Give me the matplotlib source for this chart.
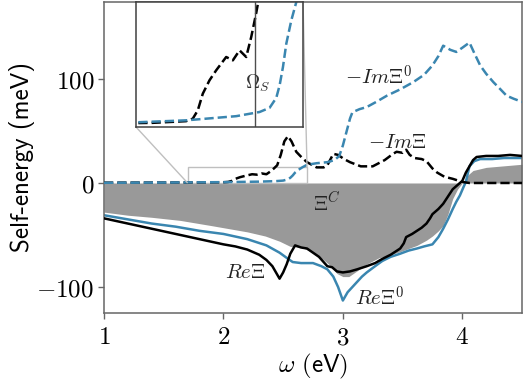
import numpy as np
import matplotlib
matplotlib.use("Agg")
import matplotlib.pyplot as plt
from mpl_toolkits.axes_grid1.inset_locator import mark_inset

plt.rcParams['mathtext.fontset'] = 'cm'

# ---- data ----
re_xi_x = [1.0, 1.2, 1.4, 1.6, 1.8, 2.0, 2.1, 2.2, 2.3, 2.36, 2.41, 2.44, 2.47, 2.50, 2.53,
           2.56, 2.60, 2.65, 2.70, 2.75, 2.80, 2.87, 2.91, 2.95, 3.0, 3.06, 3.12, 3.20, 3.27,
           3.33, 3.40, 3.48, 3.51, 3.53, 3.58, 3.62, 3.66, 3.70, 3.73, 3.75, 3.80, 3.84, 3.88,
           3.92, 3.96, 4.0, 4.03, 4.06, 4.09, 4.12, 4.2, 4.3, 4.4, 4.5]
re_xi_y = [-34, -39, -44, -49, -54, -59, -61, -64, -69, -74, -80, -86, -92, -86, -78,
           -68, -60, -62, -63, -67, -71, -80, -81, -85, -86, -85, -83, -80, -77,
           -73, -69, -63, -58, -52, -49, -46, -43, -39, -34, -30, -25, -20, -13,
           -6, -2, 2, 10, 16, 22, 25, 26, 26, 27, 26]

re_xi0_x = [1.0, 1.2, 1.4, 1.6, 1.8, 2.0, 2.2, 2.36, 2.47, 2.53, 2.58, 2.65, 2.75, 2.82, 2.87,
            2.92, 2.96, 3.0, 3.04, 3.08, 3.12, 3.16, 3.20, 3.27, 3.33, 3.40, 3.48, 3.55, 3.62,
            3.68, 3.75, 3.80, 3.84, 3.88, 3.92, 3.95, 3.98, 4.01, 4.03, 4.06, 4.1, 4.15, 4.25,
            4.35, 4.5]
re_xi0_y = [-31, -35, -39, -42, -46, -49, -54, -60, -67, -72, -76, -77, -77, -80, -83,
            -90, -100, -113, -105, -100, -95, -90, -86, -80, -75, -71, -68, -65, -63,
            -61, -59, -52, -44, -35, -25, -18, -12, -4, 1, 16, 21, 23, 23,
            24, 24]

xic_x = [1.0, 1.2, 1.4, 1.64, 1.9, 2.2, 2.35, 2.47, 2.56, 2.66, 2.75, 2.83, 2.9, 2.95, 3.0,
         3.05, 3.1, 3.2, 3.3, 3.4, 3.48, 3.55, 3.62, 3.7, 3.75, 3.80, 3.84, 3.88, 3.92, 3.96,
         4.0, 4.05, 4.09, 4.2, 4.3, 4.4, 4.5]
xic_y = [-28, -31, -33, -36, -41, -47, -51, -56, -61, -62, -67, -73, -80, -87, -90,
         -90, -86, -78, -72, -69, -66, -63, -60, -55, -51, -46, -41, -30, -15, -6,
         0, 8, 12, 15, 16, 17, 18]

im_xi_x = [1.0, 1.5, 1.8, 2.0, 2.04, 2.07, 2.10, 2.14, 2.18, 2.21, 2.24, 2.28, 2.32, 2.36,
           2.39, 2.42, 2.45, 2.48, 2.51, 2.54, 2.57, 2.61, 2.66, 2.70, 2.78, 2.84, 2.87, 2.92,
           2.96, 3.01, 3.06, 3.15, 3.25, 3.35, 3.42, 3.45, 3.50, 3.53, 3.56, 3.60, 3.66, 3.70,
           3.75, 3.79, 3.85, 3.92, 4.0, 4.06, 4.5]
im_xi_y = [0.3, 0.4, 0.5, 0.7, 1.0, 2.0, 4.0, 5.6, 6.8, 7.6, 8.4, 8.0, 9.2, 8.4,
           10.8, 13.7, 17, 27, 40, 45, 40, 30, 24, 20, 15, 15, 17, 28,
           27, 23, 20, 16, 16, 22, 28, 30, 29, 32, 27, 24, 23, 21,
           14, 10, 6, 4, 1, 0, 0]

im_xi0_x = [1.0, 1.5, 2.0, 2.3, 2.44, 2.50, 2.54, 2.56, 2.58, 2.60, 2.63, 2.66, 2.70, 2.78,
            2.87, 2.93, 2.97, 3.00, 3.03, 3.06, 3.08, 3.14, 3.20, 3.28, 3.37, 3.48, 3.59, 3.68,
            3.75, 3.80, 3.84, 3.90, 3.95, 4.00, 4.06, 4.10, 4.15, 4.20, 4.26, 4.32, 4.37, 4.43,
            4.5]
im_xi0_y = [0.2, 0.4, 0.8, 1.3, 1.8, 2.3, 3.5, 5, 7.2, 10, 12.8, 15, 17.5, 19,
            20, 22, 26, 36, 49, 62, 68, 71, 73, 78, 84, 90, 97, 104,
            113, 122, 132, 128, 126, 130, 135, 125, 113, 105, 97, 90, 84, 81,
            78]

omega_s = 2.41
yticks = [-100, 0, 100]
xticks = [1, 2, 3, 4]

blue = '#3A86B0'
grey = '#999999'

fig = plt.figure(figsize=(5.32, 3.87), dpi=100)
ax = fig.add_axes([104/532, (387-313)/387, (522-104)/532, (313-2)/387])

ax.fill_between(xic_x, 0, xic_y, color=grey, lw=0, zorder=1)
ax.plot(re_xi0_x, re_xi0_y, color=blue, lw=1.8, zorder=2)
ax.plot(re_xi_x, re_xi_y, color='black', lw=1.8, zorder=3)
ax.plot(im_xi_x, im_xi_y, color='black', lw=1.8, ls='--', zorder=4)
ax.plot(im_xi0_x, im_xi0_y, color=blue, lw=1.8, ls='--', zorder=5)

ax.set_xlim(1, 4.5)
ax.set_ylim(-125, 174)
ax.set_xticks(xticks)
ax.set_xticklabels([f"${t}$" for t in xticks], fontsize=18)
ax.set_yticks(yticks)
ax.set_yticklabels([f"${t}$" if t >= 0 else f"$-{abs(t)}$" for t in yticks], fontsize=18)
for s in ax.spines.values():
    s.set_color('0.4')
    s.set_linewidth(1.1)
ax.tick_params(direction='out', length=4, width=1, color='0.4', pad=3)
ax.tick_params(axis='x', pad=5)

ax.set_ylabel("Self-energy (meV)", family='cmss10', fontsize=18)
ax.yaxis.set_label_coords(-0.165, 0.5)
ax.set_xlabel(r"$\omega$ $\mathsf{(eV)}$", fontsize=18, labelpad=2)

tc = '#222222'
ax.text(3.02, 102, r"$-Im\Xi^0$", fontsize=15, color=tc, va='center', ha='left')
ax.text(3.21, 39, r"$-Im\Xi$", fontsize=15, color=tc, va='center', ha='left')
ax.text(2.75, -19, r"$\Xi^C$", fontsize=15, color=tc, va='center', ha='left')
ax.text(2.01, -86, r"$Re\Xi$", fontsize=15, color=tc, va='center', ha='left')
ax.text(3.10, -110, r"$Re\Xi^0$", fontsize=15, color=tc, va='center', ha='left')

# inset
axins = fig.add_axes([136/532, (387-127)/387, 167/532, 125/387])
axins.plot(im_xi_x, im_xi_y, color='black', lw=1.8, ls='--')
axins.plot(im_xi0_x, im_xi0_y, color=blue, lw=1.8, ls='--')
axins.axvline(omega_s, color='0.3', lw=1)
axins.text(omega_s - 0.055, 5.2, r"$\Omega_S$", fontsize=14, color='#333333', va='center', ha='left')
axins.set_xlim(1.70, 2.70)
axins.set_ylim(0, 15)
axins.set_xticks([])
axins.set_yticks([])
for s in axins.spines.values():
    s.set_color('0.25')
    s.set_linewidth(1.1)

mark_inset(ax, axins, loc1=1, loc2=3, fc='none', ec='0.75', lw=1)

fig.savefig("out.png", dpi=100)
